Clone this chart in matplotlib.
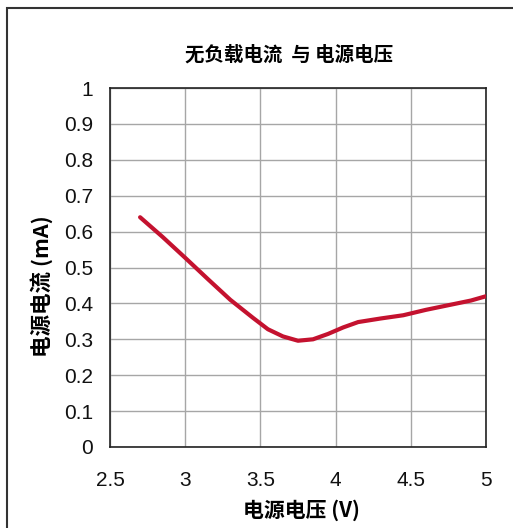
import matplotlib.pyplot as plt
import numpy as np
from matplotlib.patches import Rectangle

plt.rcParams['font.family'] = ['Liberation Sans', 'Noto Sans CJK SC', 'DejaVu Sans']

# данные
voltage = [2.7, 2.85, 3.0, 3.15, 3.3, 3.45, 3.55, 3.65, 3.75, 3.85, 3.95, 4.05, 4.15, 4.3, 4.45, 4.6, 4.75, 4.9, 5.0]
current = [0.64, 0.585, 0.527, 0.468, 0.41, 0.36, 0.328, 0.308, 0.296, 0.3, 0.315, 0.333, 0.348, 0.358, 0.367, 0.382, 0.395, 0.408, 0.42]
x_ticks = [2.5, 3, 3.5, 4, 4.5, 5]
y_ticks = [0, 0.1, 0.2, 0.3, 0.4, 0.5, 0.6, 0.7, 0.8, 0.9, 1]

W, H = 513, 528
fig = plt.figure(figsize=(W / 100, H / 100), dpi=100)
ax = fig.add_axes([110 / W, 1 - 447 / H, 376 / W, 359 / H])

ax.plot(voltage, current, color='#c4122f', lw=3, solid_capstyle='round', zorder=3)

ax.set_xlim(2.5, 5)
ax.set_ylim(0, 1)
ax.set_xticks(x_ticks)
ax.set_xticklabels(['2.5', '3', '3.5', '4', '4.5', '5'])
ax.set_yticks(y_ticks)
ax.set_yticklabels(['0', '0.1', '0.2', '0.3', '0.4', '0.5', '0.6', '0.7', '0.8', '0.9', '1'])
ax.tick_params(length=0, labelsize=15, colors='#111111')
ax.tick_params(axis='x', pad=17)
ax.tick_params(axis='y', pad=12)
ax.grid(True, color='#a6a6a6', lw=1)
for s in ax.spines.values():
    s.set_color('#222222')
    s.set_linewidth(1.2)

# заголовок и подписи осей
cjk = ['Noto Sans CJK SC', 'DejaVu Sans']
fig.text(289 / W, 1 - 55 / H, '无负载电流  与 电源电压', ha='center', va='center',
         fontsize=14, fontweight='bold', family=cjk)
fig.text(301 / W, 1 - 510 / H, '电源电压 (V)', ha='center', va='center',
         fontsize=15, fontweight='bold', family=cjk)
fig.text(42 / W, 1 - 286 / H, '电源电流 (mA)', ha='center', va='center', rotation=90,
         fontsize=15.5, fontweight='bold', family=cjk)

# рамка вокруг рисунка
fig.patches.append(Rectangle((7 / W, -0.1), 1.2, 1 - 8 / H + 0.1, transform=fig.transFigure,
                             fill=False, edgecolor='#333333', lw=1.5))

plt.savefig('out.png', dpi=100)
